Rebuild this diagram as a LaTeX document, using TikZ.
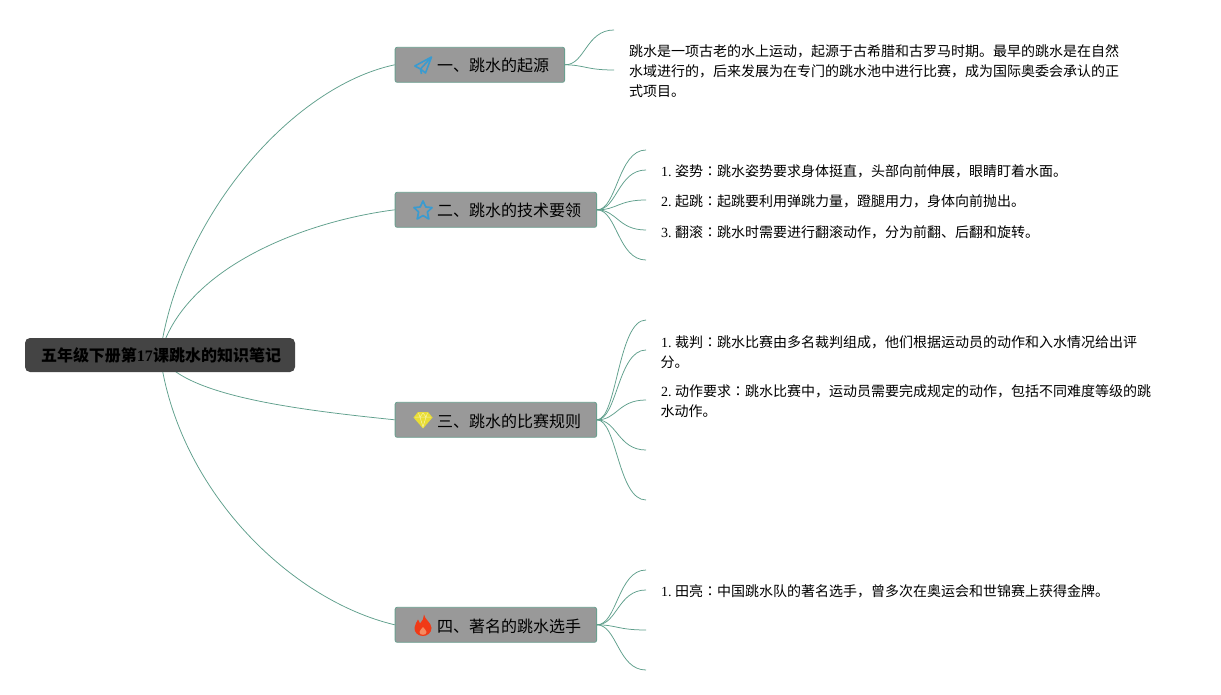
\documentclass[tikz,border=0pt]{standalone}
\usepackage{fontspec}
\setmainfont{Liberation Serif}
\newfontfamily\cjk{Noto Sans CJK SC}
\newfontfamily\cjktc{Noto Sans CJK TC}
\newcommand{\cnc}{{\cjktc ：}}
\newcommand{\numgap}{\hspace{3.3pt}}
\definecolor{linkc}{HTML}{5F9F8C}
\definecolor{boxline}{HTML}{6A9F8F}
\definecolor{branchf}{HTML}{999999}
\definecolor{rootf}{HTML}{444444}
\definecolor{iconblue}{HTML}{3A9BD0}
\definecolor{iconyellow}{HTML}{E9DD35}
\definecolor{iconpale}{HTML}{F7F3A8}
\definecolor{iconred}{HTML}{F03A17}
\definecolor{iconorange}{HTML}{F58A60}
\tikzset{
  x=1pt,y=-1pt,
  link/.style={draw=linkc,line width=0.75pt},
  branchbox/.style={draw=boxline,fill=branchf,rounded corners=2pt,line width=0.8pt,minimum height=35pt,inner sep=0pt,anchor=west,text=black,font=\fontsize{16}{16}\selectfont\cjk},
  rootbox/.style={fill=rootf,rounded corners=5pt,minimum height=34pt,minimum width=270pt,inner sep=0pt,text=black,font=\fontsize{16}{16}\selectfont\bfseries},
  bodytext/.style={anchor=base west,inner sep=0pt,text=black,font=\fontsize{14}{14}\selectfont},
  branchtext/.style={anchor=base west,inner sep=0pt,text=black,font=\fontsize{16}{16}\selectfont\cjk},
}
\begin{document}
\begin{tikzpicture}
\useasboundingbox[fill=white] (0,0) rectangle (1221,695);
% root hub
\coordinate (hub) at (160,355);
% branches
\node[branchbox,minimum width=169.5pt] (b1) at (394.7,64.8) {};
\node[branchbox,minimum width=201.5pt] (b2) at (394.7,209.8) {};
\node[branchbox,minimum width=201.5pt] (b3) at (394.7,419.8) {};
\node[branchbox,minimum width=201.5pt] (b4) at (394.7,624.8) {};
% main connectors
\draw[link] (hub) .. controls (178,220) and (290,87) .. (b1.west);
\draw[link] (hub) .. controls (182,270) and (300,222) .. (b2.west);
\draw[link] (hub) .. controls (181,396) and (300,410) .. (b3.west);
\draw[link] (hub) .. controls (178,490) and (290,600) .. (b4.west);
\node[rootbox] (root) at (160,355) {\phantom{x}};
\node[anchor=base,inner sep=0pt,font=\fontsize{16}{16}\selectfont\bfseries] (roottext) at (161,361) {{\cjk 五年级下册第}17{\cjk 课跳水的知识笔记}};
% free ends
\coordinate (a1) at (614,30); \coordinate (a2) at (614,70);
\foreach \n/\y in {1/150,2/170,3/200,4/230,5/260}{\coordinate (c\n) at (646,\y);}
\foreach \n/\y in {1/320,2/350,3/400,4/450,5/500}{\coordinate (d\n) at (646,\y);}
\foreach \n/\y in {1/570,2/590,3/630,4/670}{\coordinate (e\n) at (646,\y);}
\foreach \n/\y in {1/30,2/70}{\draw[link] (b1.east) .. controls (585,65) and (586,\y) .. (a\n);}
\foreach \n/\y in {1/150,2/170,3/200,4/230,5/260}{\draw[link] (b2.east) .. controls (617,210) and (618,\y) .. (c\n);}
\foreach \n/\y in {1/320,2/350,3/400,4/450,5/500}{\draw[link] (b3.east) .. controls (617,420) and (618,\y) .. (d\n);}
\foreach \n/\y in {1/570,2/590,3/630,4/670}{\draw[link] (b4.east) .. controls (617,625) and (618,\y) .. (e\n);}
% branch labels
\node[branchtext] (t1) at (437,72) {一、跳水的起源};
\node[branchtext] (t2) at (437,217) {二、跳水的技术要领};
\node[branchtext] (t3) at (437,427) {三、跳水的比赛规则};
\node[branchtext] (t4) at (437,632) {四、著名的跳水选手};
% icons
\draw[iconblue,line width=1.6pt,line join=round] (431.5,57) -- (414.8,66) -- (420.5,69) -- (431.5,57) -- (425.5,73) -- (420.5,69) -- (421.5,74);
\draw[iconblue,line width=1.7pt,line join=round] (423,201) -- (425.8,207) -- (432,207.6) -- (427.4,212) -- (428.8,219) -- (423,215.5) -- (417.2,219) -- (418.6,212) -- (414,207.6) -- (420.2,207) -- cycle;
\fill[iconyellow] (418,412) -- (428,412) -- (432.5,417.5) -- (423,428.5) -- (413.5,417.5) -- cycle;
\draw[iconpale,line width=0.5pt] (415,417) -- (431,417) (418.5,413) -- (420,417) -- (423,427) -- (426,417) -- (427.5,413) (420,417) -- (423,413) -- (426,417);
\fill[iconred] (424,614.5) .. controls (425,620) and (431,622) .. (431.5,628) .. controls (431.5,633) and (427,636) .. (423,636) .. controls (418,636) and (414,632.5) .. (414.5,627.5) .. controls (414.8,624) and (417,622) .. (418,619.5) .. controls (419,621) and (419.5,622) .. (420,623.5) .. controls (422.5,621) and (424,618) .. (424,614.5) -- cycle;
\fill[iconorange] (423,627) .. controls (424,629) and (426.5,630) .. (426.5,632) .. controls (426.5,634) and (425,634.8) .. (423,634.8) .. controls (421,634.8) and (419.5,634) .. (419.5,632) .. controls (419.5,630) and (422,629) .. (423,627) -- cycle;
% body text
\node[bodytext] (p1) at (629,57) {\cjk 跳水是一项古老的水上运动，起源于古希腊和古罗马时期。最早的跳水是在自然};
\node[bodytext] (p2) at (629,77) {\cjk 水域进行的，后来发展为在专门的跳水池中进行比赛，成为国际奥委会承认的正};
\node[bodytext] (p3) at (629,97) {\cjk 式项目。};
\node[bodytext] (s1) at (661,177) {1.\numgap{\cjk 姿势\cnc 跳水姿势要求身体挺直，头部向前伸展，眼睛盯着水面。}};
\node[bodytext] (s2) at (661,207) {2.\numgap{\cjk 起跳\cnc 起跳要利用弹跳力量，蹬腿用力，身体向前抛出。}};
\node[bodytext] (s3) at (661,237) {3.\numgap{\cjk 翻滚\cnc 跳水时需要进行翻滚动作，分为前翻、后翻和旋转。}};
\node[bodytext] (r1) at (661,347) {1.\numgap{\cjk 裁判\cnc 跳水比赛由多名裁判组成，他们根据运动员的动作和入水情况给出评}};
\node[bodytext] (r1b) at (660.5,367) {\cjk 分。};
\node[bodytext] (r2) at (661,396.6) {2.\numgap{\cjk 动作要求\cnc 跳水比赛中，运动员需要完成规定的动作，包括不同难度等级的跳}};
\node[bodytext] (r2b) at (660.5,416.6) {\cjk 水动作。};
\node[bodytext] (f1) at (661,596.6) {1.\numgap{\cjk 田亮\cnc 中国跳水队的著名选手，曾多次在奥运会和世锦赛上获得金牌。}};
\end{tikzpicture}
\end{document}
